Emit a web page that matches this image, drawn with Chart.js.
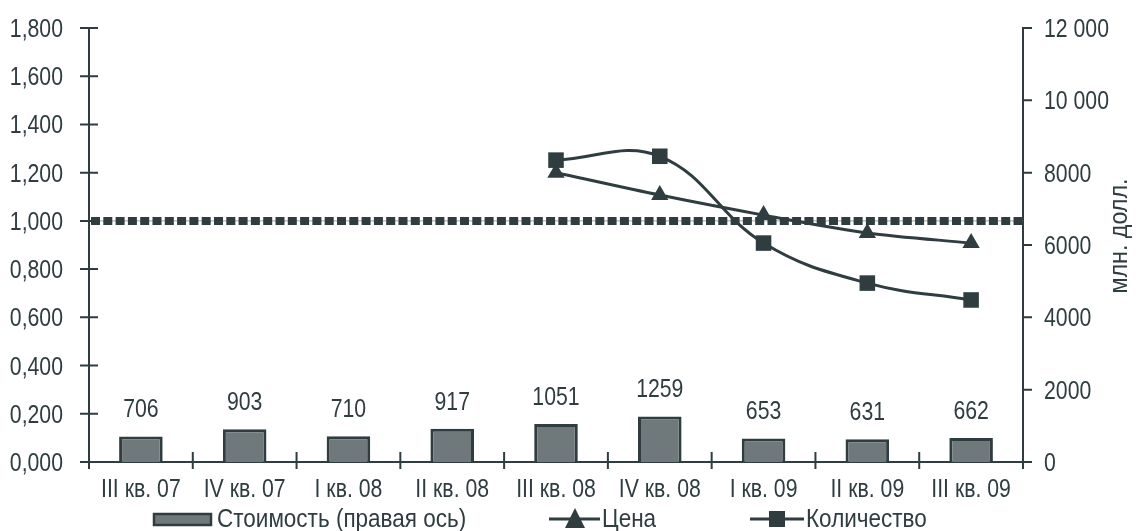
<!DOCTYPE html>
<html>
<head>
<meta charset="utf-8">
<script src="https://cdn.jsdelivr.net/npm/chart.js@4/dist/chart.umd.min.js"></script>
<style>
  html, body { margin: 0; padding: 0; background: #fff; }
  #wrap { width: 1136px; height: 531px; }
</style>
</head>
<body>
<div id="wrap"><canvas id="chart" width="1136" height="531"></canvas></div>
<script>
const quarters = ['III кв. 07', 'IV кв. 07', 'I кв. 08', 'II кв. 08', 'III кв. 08', 'IV кв. 08', 'I кв. 09', 'II кв. 09', 'III кв. 09'];
const valueMln = [706, 903, 710, 917, 1051, 1259, 653, 631, 662];
const priceIndex = [null, null, null, null, 1.200, 1.107, 1.024, 0.950, 0.908];
const quantityIndex = [null, null, null, null, 1.252, 1.268, 0.908, 0.742, 0.672];
const baseLevel = 1.0;
const leftTickStep = 0.2, leftMax = 1.8;
const rightTickStep = 2000, rightMax = 12000;

const ink = '#2f3d40';
const barFill = '#6f797c';
const textFont = '25px "Liberation Sans", Arial, sans-serif';
const squeeze = 0.85;   // the original uses a narrow face

// narrow text: fillText squeezed horizontally
function narrowText(ctx, text, x, y, align, k) {
  ctx.save();
  ctx.translate(x, y);
  ctx.scale(k || squeeze, 1);
  ctx.textAlign = align;
  ctx.fillText(text, 0, 0);
  ctx.restore();
}

function leftLabel(v) { return v.toFixed(3).replace('.', ','); }
function rightLabel(v) { return v >= 10000 ? String(v).replace(/(\d{3})$/, ' $1') : String(v); }

const decor = {
  id: 'decor',
  beforeDatasetsDraw(chart) {
    const ctx = chart.ctx, area = chart.chartArea;
    const y = chart.scales.y.getPixelForValue(baseLevel);
    ctx.save();
    ctx.strokeStyle = '#9aa2a4';
    ctx.lineWidth = 1;
    ctx.beginPath(); ctx.moveTo(area.left, y); ctx.lineTo(area.right, y); ctx.stroke();
    ctx.strokeStyle = ink;
    ctx.lineWidth = 8;
    ctx.setLineDash([9, 3.3]);
    ctx.beginPath(); ctx.moveTo(area.left + 2, y); ctx.lineTo(area.right, y); ctx.stroke();
    ctx.restore();
  },
  afterDraw(chart) {
    const ctx = chart.ctx, area = chart.chartArea;
    const ys = chart.scales.y, yr = chart.scales.y1, xs = chart.scales.x;
    ctx.save();
    ctx.strokeStyle = ink;
    ctx.lineWidth = 2;
    ctx.beginPath();
    ys.ticks.forEach(t => {
      const y = ys.getPixelForValue(t.value);
      ctx.moveTo(area.left - 9, y); ctx.lineTo(area.left + 9, y);
    });
    yr.ticks.forEach(t => {
      const y = yr.getPixelForValue(t.value);
      ctx.moveTo(area.right, y); ctx.lineTo(area.right + 9, y);
    });
    for (let i = 0; i <= quarters.length; i++) {
      const x = xs.getPixelForValue(i - 0.5);
      ctx.moveTo(x, area.bottom - 10); ctx.lineTo(x, area.bottom + 7);
    }
    ctx.stroke();

    ctx.fillStyle = ink;
    ctx.font = textFont;
    ctx.textBaseline = 'alphabetic';

    // tick labels
    ys.ticks.forEach(t => {
      narrowText(ctx, leftLabel(t.value), area.left - 26, ys.getPixelForValue(t.value) + 9, 'right');
    });
    yr.ticks.forEach(t => {
      narrowText(ctx, rightLabel(t.value), area.right + 21, yr.getPixelForValue(t.value) + 9, 'left');
    });
    quarters.forEach((q, i) => {
      narrowText(ctx, q, xs.getPixelForValue(i), area.bottom + 35, 'center');
    });

    // values above bars
    chart.getDatasetMeta(0).data.forEach((bar, i) => {
      narrowText(ctx, String(valueMln[i]), bar.x, bar.y - 19, 'center');
    });

    // right axis title, reading bottom to top
    ctx.save();
    ctx.translate(1127, 236);
    ctx.rotate(-Math.PI / 2);
    narrowText(ctx, 'млн. долл.', 0, 0, 'center', 0.93);
    ctx.restore();

    // legend
    const ly = 519, base = 527, lk = 0.9;
    ctx.fillStyle = barFill;
    ctx.fillRect(154, 514, 57, 11);
    ctx.strokeStyle = ink; ctx.lineWidth = 2.5;
    ctx.strokeRect(154, 514, 57, 11);
    ctx.fillStyle = ink;
    narrowText(ctx, 'Стоимость (правая ось)', 217, base, 'left', lk);

    ctx.lineWidth = 3;
    ctx.beginPath(); ctx.moveTo(549, ly); ctx.lineTo(600, ly); ctx.stroke();
    ctx.beginPath(); ctx.moveTo(575, ly - 11); ctx.lineTo(585, ly + 9); ctx.lineTo(565, ly + 9); ctx.closePath(); ctx.fill();
    narrowText(ctx, 'Цена', 602, base, 'left', lk);

    ctx.beginPath(); ctx.moveTo(750, ly); ctx.lineTo(804, ly); ctx.stroke();
    ctx.fillRect(769, ly - 8, 16, 16);
    narrowText(ctx, 'Количество', 806, base, 'left', lk);
    ctx.restore();
  }
};

new Chart(document.getElementById('chart'), {
  data: {
    labels: quarters,
    datasets: [
      {
        type: 'bar',
        label: 'Стоимость (правая ось)',
        data: valueMln,
        yAxisID: 'y1',
        backgroundColor: barFill,
        borderColor: ink,
        borderWidth: 3,
        barPercentage: 0.42,
        categoryPercentage: 1,
        order: 3
      },
      {
        type: 'line',
        label: 'Цена',
        data: priceIndex,
        yAxisID: 'y',
        borderColor: ink,
        backgroundColor: ink,
        borderWidth: 3,
        tension: 0.3,
        pointStyle: 'triangle',
        pointRadius: 10,
        pointBorderWidth: 0,
        order: 1
      },
      {
        type: 'line',
        label: 'Количество',
        data: quantityIndex,
        yAxisID: 'y',
        borderColor: ink,
        backgroundColor: ink,
        borderWidth: 3,
        tension: 0.4,
        pointStyle: 'rect',
        pointRadius: 11,
        pointBorderWidth: 0,
        order: 2
      }
    ]
  },
  options: {
    responsive: false,
    animation: false,
    layout: { padding: { top: 28, bottom: 0, left: 0, right: 0 } },
    plugins: {
      legend: { display: false },
      tooltip: { enabled: false }
    },
    scales: {
      x: {
        offset: true,
        grid: { offset: true, display: false },
        border: { display: true, color: ink, width: 2 },
        ticks: { display: false },
        afterFit(scale) { scale.height = 69; }
      },
      y: {
        position: 'left',
        min: 0,
        max: leftMax,
        grid: { display: false },
        border: { display: true, color: ink, width: 2 },
        ticks: { display: false, stepSize: leftTickStep },
        afterFit(scale) { scale.width = 89; }
      },
      y1: {
        position: 'right',
        min: 0,
        max: rightMax,
        grid: { display: false },
        border: { display: true, color: ink, width: 2 },
        ticks: { display: false, stepSize: rightTickStep },
        afterFit(scale) { scale.width = 113; }
      }
    }
  },
  plugins: [decor]
});
</script>
</body>
</html>
